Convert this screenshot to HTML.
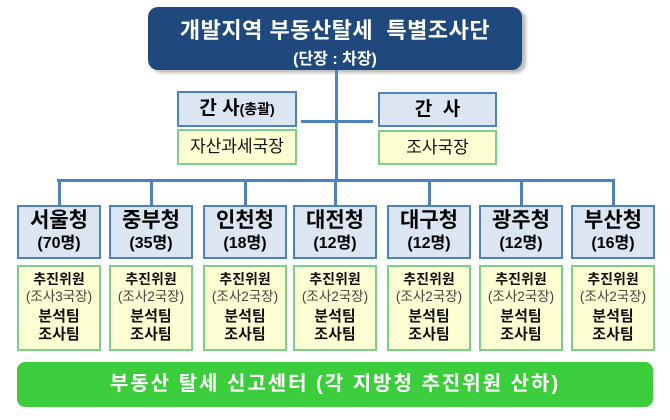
<!DOCTYPE html>
<html><head><meta charset="utf-8"><style>
*{margin:0;padding:0;box-sizing:border-box}
body{width:670px;height:420px;background:#fff;position:relative;overflow:hidden;font-family:"Liberation Sans","Noto Sans CJK KR",sans-serif}
.a{position:absolute}
.ln{position:absolute;background:#4f81bd}
.top{left:148px;top:7px;width:374px;height:63px;background:#1f487c;border-radius:10px;color:#fff;text-align:center;box-shadow:4px 3px 3px #bbb}
.hb{background:#dce6f2;border:2px solid #4f81bd;text-align:center;font-weight:bold}
.yb{background:#ffffd4;border:2px solid #7ccf8a;text-align:center;color:#111}
</style></head><body>
<div class="a top"><div style="font-size:22px;font-weight:bold;margin-top:6px;letter-spacing:0.5px">개발지역 부동산탈세 &nbsp;특별조사단</div><div style="font-size:16px;font-weight:bold;margin-top:0px">(단장 : 차장)</div></div>
<div class="ln" style="left:335px;top:70px;width:3px;height:112px"></div>
<div class="ln" style="left:301px;top:120px;width:72px;height:3px"></div>
<div class="ln" style="left:57px;top:179px;width:558px;height:3px"></div>
<div class="a hb" style="left:177px;top:91px;width:120px;height:36px;font-size:19px;line-height:32px">간 사<span style="font-size:14px">(총괄)</span></div>
<div class="a yb" style="left:177px;top:129px;width:120px;height:36px;font-size:17px;line-height:32px">자산과세국장</div>
<div class="a hb" style="left:378px;top:92px;width:119px;height:35px;font-size:19px;line-height:31px">간 &nbsp;사</div>
<div class="a yb" style="left:378px;top:130px;width:119px;height:35px;font-size:17px;line-height:31px">조사국장</div>
<div id="cols"></div>
<div class="a" style="left:17px;top:362px;width:636px;height:45px;background:#3ccd3c;border-radius:8px;color:#fff;font-weight:bold;font-size:20px;text-align:center;line-height:45px;letter-spacing:2px">부동산 탈세 신고센터 (각 지방청 추진위원 산하)</div>
<script>
var d=[["서울청","70","3"],["중부청","35","2"],["인천청","18","2"],["대전청","12","2"],["대구청","12","2"],["광주청","12","2"],["부산청","16","2"]];
var xs=[17,109,203,293,387,479,571],h="";
d.forEach(function(c,i){var x=xs[i];
h+='<div class="ln" style="left:'+(x+41)+'px;top:180px;width:3px;height:25px"></div>';
h+='<div class="a hb" style="left:'+x+'px;top:205px;width:84px;height:54px;"><div style="font-size:21px;margin-top:1px;line-height:26px">'+c[0]+'</div><div style="font-size:16px;line-height:20px">('+c[1]+'명)</div></div>';
h+='<div class="a yb" style="left:'+x+'px;top:265px;width:84px;height:86px;font-size:14px;line-height:18px;padding-top:3px"><div style="font-weight:bold">추진위원</div><div style="color:#444;font-size:13.5px">(조사'+c[2]+'국장)</div><div style="font-weight:bold;font-size:15px;margin-top:2px">분석팀</div><div style="font-weight:bold;font-size:15px">조사팀</div></div>';
});
document.getElementById("cols").innerHTML=h;
</script>
</body></html>
